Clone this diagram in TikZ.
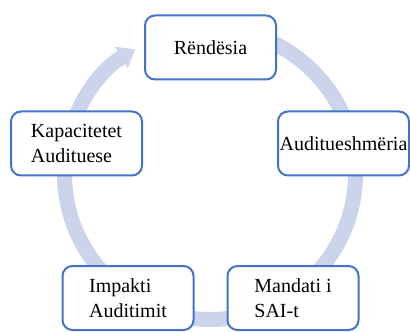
\documentclass[tikz,border=0pt]{standalone}
\usepackage{fontspec}
\newfontfamily\boxfont{Liberation Serif}
\usetikzlibrary{arrows.meta}
\definecolor{ringblue}{RGB}{204,211,234}
\definecolor{boxblue}{RGB}{68,114,196}

\begin{document}
\begin{tikzpicture}[x=0.5pt,y=0.5pt,
        box/.style={draw=boxblue,line width=1pt,fill=white,rounded corners=5pt,
            minimum width=65.5pt,minimum height=32pt,inner sep=0pt,align=left,
            font=\boxfont\fontsize{10}{12.5}\selectfont},
        ring/.style={draw=ringblue,line width=7.5pt,-{Triangle[width=12pt,length=8pt]}}]
        \useasboundingbox (0,0) rectangle (410,331);
        \coordinate (c) at (210,157);
        \draw[ring] (c) ++(90:72.75pt) arc[start angle=90,end angle=-239,radius=72.75pt];
        \node[box] (rend) at (210.5,283.5) {Rëndësia};
        \node[box] (audit) at (343.5,187.5) {Auditueshmëria};
        \node[box] (mand) at (293,33) {Mandati i\\SAI-t};
        \node[box] (imp) at (128,33) {Impakti\\Auditimit};
        \node[box] (kap) at (76.5,187.5) {Kapacitetet\\Audituese};
    \end{tikzpicture}
\end{document}
